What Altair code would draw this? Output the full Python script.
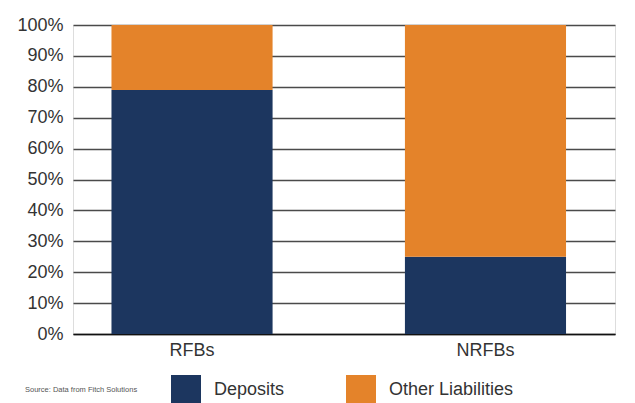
import altair as alt
import pandas as pd

categories = ["RFBs", "NRFBs"]
series = ["Deposits", "Other Liabilities"]
deposits = [79, 25]
other = [21, 75]

rows = []
for i, c in enumerate(categories):
    rows.append({"bank": c, "type": series[0], "value": deposits[i]})
    rows.append({"bank": c, "type": series[1], "value": other[i]})
df = pd.DataFrame(rows)

font = "Liberation Sans"

chart = alt.Chart(df).mark_bar().encode(
    x=alt.X("bank:N", sort=categories, title=None,
            scale=alt.Scale(paddingInner=0.451, paddingOuter=0.149, align=0.44),
            axis=alt.Axis(labelAngle=0, labelFontSize=18, labelColor="#333333",
                          labelFont=font, ticks=False, domainColor="#111111",
                          domainWidth=1.5, labelPadding=7)),
    y=alt.Y("value:Q", stack="zero", title=None,
            scale=alt.Scale(domain=[0, 100]),
            axis=alt.Axis(values=list(range(0, 101, 10)), labelExpr="datum.value + '%'",
                          labelFontSize=18, labelColor="#333333", labelFont=font,
                          ticks=False, domain=False, gridColor="#4a4a4a", gridWidth=1.6,
                          labelPadding=10)),
    color=alt.Color("type:N", sort=series,
                    scale=alt.Scale(domain=series, range=["#1c365f", "#e4832a"]),
                    legend=alt.Legend(orient="none", legendX=-48, legendY=350,
                                      direction="horizontal",
                                      title="Source: Data from Fitch Solutions",
                                      titleOrient="left", titleFontSize=7.5,
                                      titleFontWeight="normal", titleColor="#555555",
                                      titleFont=font, titlePadding=33,
                                      symbolType="square", symbolSize=900,
                                      symbolStrokeWidth=0, symbolOpacity=1,
                                      labelFontSize=18, labelFont=font,
                                      labelColor="#333333", labelOffset=13,
                                      columnPadding=61, titleBaseline="middle")),
    order=alt.Order("type:N", sort="ascending"),
).properties(
    width=542, height=309,
    autosize=alt.AutoSizeParams(type="none"),
    padding={"left": 73, "top": 25, "right": 20, "bottom": 69},
).configure_view(stroke=None).configure(background="white")

chart.save("out.html", embed_options={"renderer": "svg", "actions": False})
